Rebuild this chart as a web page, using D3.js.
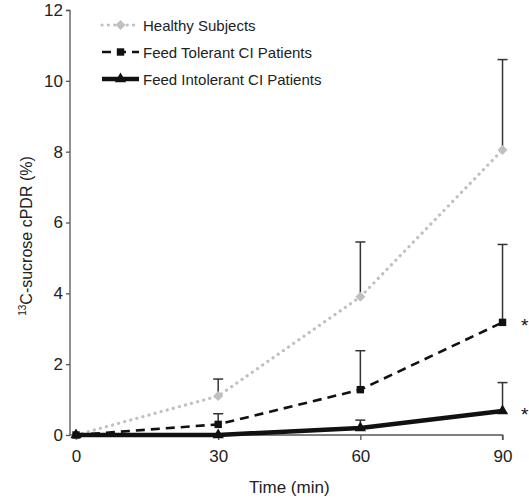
<!DOCTYPE html>
<html>
<head>
<meta charset="utf-8">
<script src="https://cdn.jsdelivr.net/npm/d3@7"></script>
<style>
  html, body { margin: 0; padding: 0; background: #fff; }
  svg { display: block; font-family: "Liberation Sans", Arial, sans-serif; }
</style>
</head>
<body>
<svg id="chart" width="529" height="500"></svg>
<script>
// ---- data ----
const times = [0, 30, 60, 90];
const healthy = [0, 1.1, 3.9, 8.05];
const healthyErr = [0, 0.48, 1.55, 2.55];
const tolerant = [0, 0.3, 1.28, 3.18];
const tolerantErr = [0, 0.3, 1.1, 2.2];
const intolerant = [0, 0.0, 0.2, 0.68];
const intolerantErr = [0, 0, 0.22, 0.8];
const yTicks = [0, 2, 4, 6, 8, 10, 12];
const xTicks = [0, 30, 60, 90];
const seriesNames = ["Healthy Subjects", "Feed Tolerant CI Patients", "Feed Intolerant CI Patients"];
const significant = [false, true, true];

const svg = d3.select("#chart");
const x = d3.scaleLinear().domain([-1.27, 90.1]).range([70, 503]);
const y = d3.scaleLinear().domain([0, 12]).range([435, 10]);

const axisColor = "#555";

// y axis
const yAxis = svg.append("g").attr("transform", "translate(70,0)")
  .call(d3.axisLeft(y).tickValues(yTicks).tickSize(4).tickSizeOuter(4).tickPadding(3));
// x axis
const xAxis = svg.append("g").attr("transform", "translate(0,435)")
  .call(d3.axisBottom(x).tickValues(xTicks).tickSize(5).tickSizeOuter(0).tickPadding(10));
[yAxis, xAxis].forEach(a => {
  a.select(".domain").attr("stroke", axisColor).attr("stroke-width", 1.3);
  a.selectAll(".tick line").attr("stroke", axisColor).attr("stroke-width", 1.3);
  a.selectAll("text").attr("fill", "#222").style("font-size", "17px")
    .style("font-family", "'Liberation Sans', Arial, sans-serif");
});
yAxis.select(".domain").attr("d", "M-4,10.5H0V435");
xAxis.select(".domain").attr("d", `M70,0H${x(90)}V5`);

// axis titles
svg.append("text").attr("x", x(45)).attr("y", 493).attr("text-anchor", "middle")
  .attr("fill", "#222").style("font-size", "17px").text("Time (min)");
const yt = svg.append("text")
  .attr("transform", "translate(32,236) rotate(-90)")
  .attr("text-anchor", "middle").attr("fill", "#222").style("font-size", "16px");
yt.append("tspan").attr("dy", "-6").style("font-size", "10px").text("13");
yt.append("tspan").attr("dy", "6").text("C-sucrose cPDR (%)");

// series definitions
const series = [
  { name: seriesNames[0], vals: healthy, err: healthyErr, color: "#c0c0c0", width: 3.2, dash: "0.1,6.2", cap: "round", marker: "diamond", msize: 50 },
  { name: seriesNames[1], vals: tolerant, err: tolerantErr, color: "#111", width: 2.6, dash: "9,6", cap: "butt", marker: "square", msize: 55 },
  { name: seriesNames[2], vals: intolerant, err: intolerantErr, color: "#111", width: 4.5, dash: null, cap: "butt", marker: "triangle", msize: 55 }
];
const symType = { diamond: d3.symbolSquare, square: d3.symbolSquare, triangle: d3.symbolTriangle };
const symRot = { diamond: 45, square: 0, triangle: 0 };

// error bars (upward)
series.forEach(s => {
  const g = svg.append("g");
  times.forEach((t, i) => {
    if (s.err[i] <= 0) return;
    const cx = x(t), y0 = y(s.vals[i]), y1 = y(s.vals[i] + s.err[i]);
    g.append("line").attr("x1", cx).attr("x2", cx).attr("y1", y0).attr("y2", y1)
      .attr("stroke", "#333").attr("stroke-width", 1.5);
    g.append("line").attr("x1", cx - 5).attr("x2", cx + 5).attr("y1", y1).attr("y2", y1)
      .attr("stroke", "#333").attr("stroke-width", 1.5);
  });
});

// lines + markers
const line = d3.line().x((d, i) => x(times[i])).y(d => y(d));
series.forEach(s => {
  svg.append("path").datum(s.vals).attr("d", line).attr("fill", "none")
    .attr("stroke", s.color).attr("stroke-width", s.width)
    .attr("stroke-dasharray", s.dash).attr("stroke-linecap", s.cap);
  svg.append("g").selectAll("path").data(s.vals).join("path")
    .attr("transform", (d, i) => `translate(${x(times[i])},${y(d)}) rotate(${symRot[s.marker]})`)
    .attr("d", d3.symbol().type(symType[s.marker]).size(s.msize))
    .attr("fill", s.color);
});

// significance asterisks
series.forEach((s, i) => {
  if (!significant[i]) return;
  svg.append("text").attr("x", 521).attr("y", y(s.vals[3]) + 10)
    .attr("fill", "#111").style("font-size", "19px").text("*");
});

// legend
const legY = [25, 52, 79];
series.forEach((s, i) => {
  const g = svg.append("g").attr("transform", `translate(0,${legY[i]})`);
  g.append("line").attr("x1", 102).attr("x2", 139).attr("y1", 0).attr("y2", 0)
    .attr("stroke", s.color).attr("stroke-width", s.width)
    .attr("stroke-dasharray", s.dash).attr("stroke-linecap", s.cap);
  g.append("path").attr("transform", `translate(120.5,0) rotate(${symRot[s.marker]})`)
    .attr("d", d3.symbol().type(symType[s.marker]).size(s.msize)).attr("fill", s.color);
  g.append("text").attr("x", 143).attr("y", 5.5).attr("fill", "#222")
    .style("font-size", "15px").text(s.name);
});
</script>
</body>
</html>
